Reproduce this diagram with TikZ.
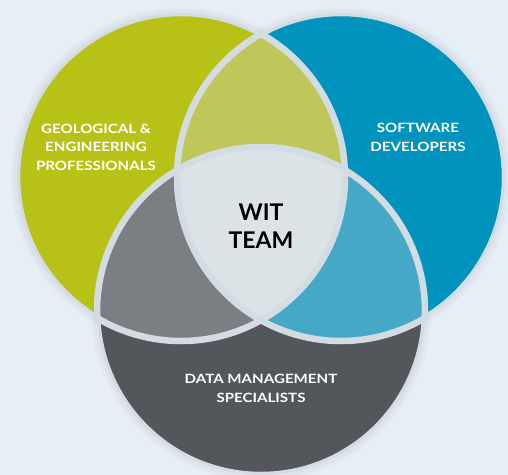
\documentclass[tikz,border=0pt]{standalone}
\usepackage{fontspec}
\setmainfont{Lato}
\newfontfamily\lblfont{Lato}[FakeStretch=1.18]
\definecolor{bg}{HTML}{E7EEF5}
\definecolor{band}{HTML}{D4DCE3}
\definecolor{cgreen}{HTML}{B8C116}
\definecolor{cblue}{HTML}{0093BE}
\definecolor{cdark}{HTML}{53565B}
\definecolor{cgb}{HTML}{BFC75A}
\definecolor{cgd}{HTML}{7B7F83}
\definecolor{cbd}{HTML}{45A8C6}
\definecolor{ccenter}{HTML}{DCE3E6}
\begin{document}
\begin{tikzpicture}[x=1pt,y=-1pt,
  lbl/.style={text=white, align=center, inner sep=0pt,
    font=\lblfont\fontsize{12.8}{18.5}\selectfont\bfseries},
  core/.style={text=black, align=center, inner sep=0pt,
    font=\fontsize{23}{27.7}\selectfont\bfseries},
  bandline/.style={draw=band, line width=6.5pt},
  shade/.style={draw=black, opacity=0.02, line width=#1}]
\fill[bg] (0,0) rectangle (508,474);
\useasboundingbox (0,0) rectangle (508,474);
\coordinate (G) at (181,177);
\coordinate (B) at (341,177);
\coordinate (D) at (261,311);
\def\R{164pt}
\begin{scope}
  \clip (0,0) rectangle (508,474);
  % single regions
  \fill[cgreen] (G) circle[radius=\R];
  \fill[cblue] (B) circle[radius=\R];
  \fill[cdark] (D) circle[radius=\R];
  % pairwise overlaps
  \begin{scope}
    \clip (G) circle[radius=\R];
    \fill[cgb] (B) circle[radius=\R];
    \fill[cgd] (D) circle[radius=\R];
  \end{scope}
  \begin{scope}
    \clip (B) circle[radius=\R];
    \fill[cbd] (D) circle[radius=\R];
  \end{scope}
  % centre
  \begin{scope}
    \clip (G) circle[radius=\R];
    \clip (B) circle[radius=\R];
    \fill[ccenter] (D) circle[radius=\R];
  \end{scope}
  % bands
  \foreach \c in {G,B,D} {
    \draw[bandline] (\c) circle[radius=\R];
  }
  % soft shadow outside the union of the circles
  \begin{scope}[even odd rule]
    \clip (-20,-20) rectangle (528,494) (G) circle[radius=\R];
    \clip (-20,-20) rectangle (528,494) (B) circle[radius=\R];
    \clip (-20,-20) rectangle (528,494) (D) circle[radius=\R];
    \fill[bg] (-20,-20) rectangle (528,494);
    \foreach \c in {G,B,D} {
      \draw[shade=12pt] (\c) circle[radius=\R];
      \draw[shade=7pt] (\c) circle[radius=\R];
    }
  \end{scope}
\end{scope}
\node[lbl] (geo) at (96,147) {GEOLOGICAL \&\\ENGINEERING\\PROFESSIONALS};
\node[lbl] (sw) at (418,137.5) {SOFTWARE\\DEVELOPERS};
\node[lbl] (dm) at (261,388.5) {DATA MANAGEMENT\\SPECIALISTS};
\node[core] (wit) at (261,226) {WIT\\TEAM};
\end{tikzpicture}
\end{document}
